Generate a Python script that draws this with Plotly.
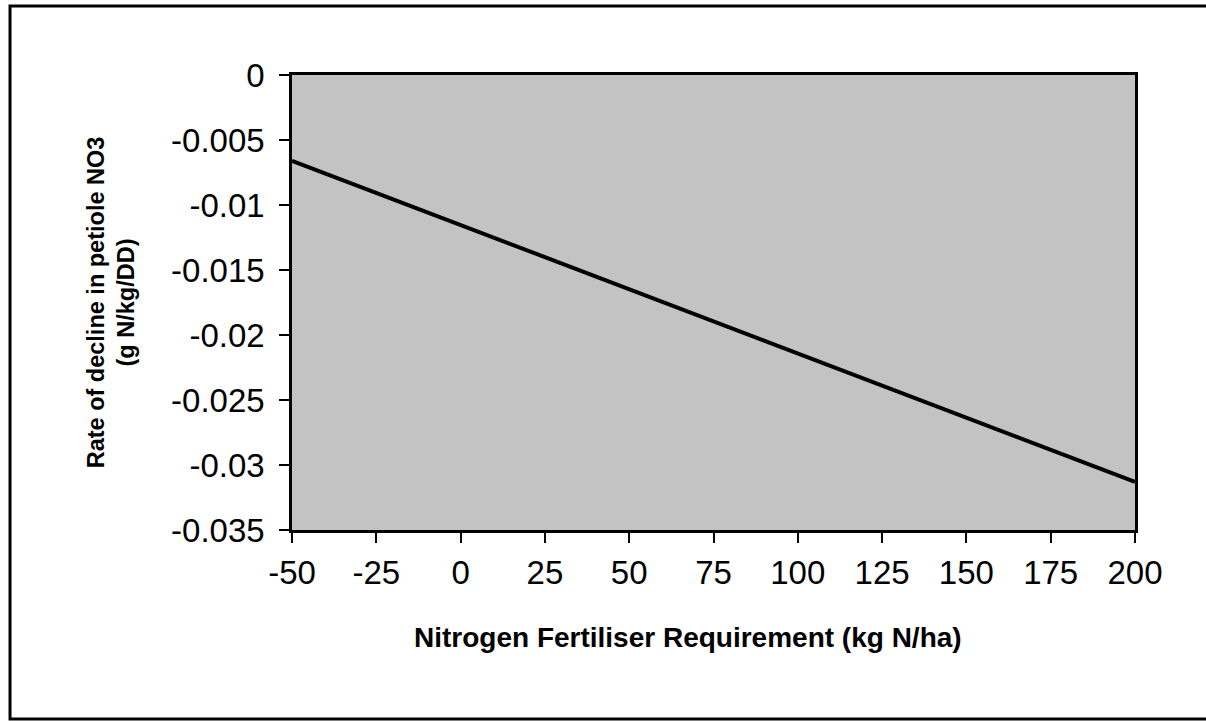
import plotly.graph_objects as go

# Fitted relationship: fertiliser requirement vs rate of decline in petiole NO3
n_requirement = [-50, 200]
decline_rate = [-0.0066, -0.0313]

x_ticks = [-50, -25, 0, 25, 50, 75, 100, 125, 150, 175, 200]
x_tick_text = ["-50", "-25", "0", "25", "50", "75", "100", "125", "150", "175", "200"]
y_ticks = [0, -0.005, -0.01, -0.015, -0.02, -0.025, -0.03, -0.035]
y_tick_text = ["0", "-0.005", "-0.01", "-0.015", "-0.02", "-0.025", "-0.03", "-0.035"]

fig = go.Figure()
fig.add_trace(go.Scatter(
    x=n_requirement, y=decline_rate, mode="lines",
    line=dict(color="black", width=4), showlegend=False,
))

font_family = "Liberation Sans, Arial, sans-serif"

fig.update_layout(
    width=1206, height=721,
    margin=dict(l=292, r=71, t=75, b=191),
    paper_bgcolor="white",
    plot_bgcolor="#c3c3c3",
    font=dict(family=font_family, color="black"),
    xaxis=dict(
        range=[-50, 200], tickvals=x_ticks, ticktext=x_tick_text,
        ticks="outside", ticklen=10, tickwidth=1.5, tickcolor="black",
        ticklabelstandoff=2,
        showline=True, linecolor="black", linewidth=2.5, mirror=True,
        showgrid=False, zeroline=False,
        tickfont=dict(size=33, family=font_family),
    ),
    yaxis=dict(
        range=[-0.035, 0], tickvals=y_ticks, ticktext=y_tick_text,
        ticks="outside", ticklen=10, tickwidth=1.5, tickcolor="black",
        ticklabelstandoff=8,
        showline=True, linecolor="black", linewidth=2.5, mirror=True,
        showgrid=False, zeroline=False,
        tickfont=dict(size=33, family=font_family),
        title=dict(text="<b>Rate of decline in petiole NO3<br>(g N/kg/DD)</b>",
                   font=dict(size=23.5, family=font_family), standoff=30),
    ),
)

# X-axis title, set slightly left of the plot centre
fig.add_annotation(
    text="<b>Nitrogen Fertiliser Requirement (kg N/ha)</b>",
    xref="paper", yref="paper", x=0.4698, y=-0.2352,
    xanchor="center", yanchor="middle", showarrow=False,
    font=dict(size=28, family=font_family, color="black"),
)

# Outer chart frame
fig.add_shape(type="rect", xref="paper", yref="paper",
              x0=-0.3345, x1=1.2, y0=-0.4154, y1=1.1516,
              line=dict(color="black", width=3), layer="below")

fig.write_html("out.html")
